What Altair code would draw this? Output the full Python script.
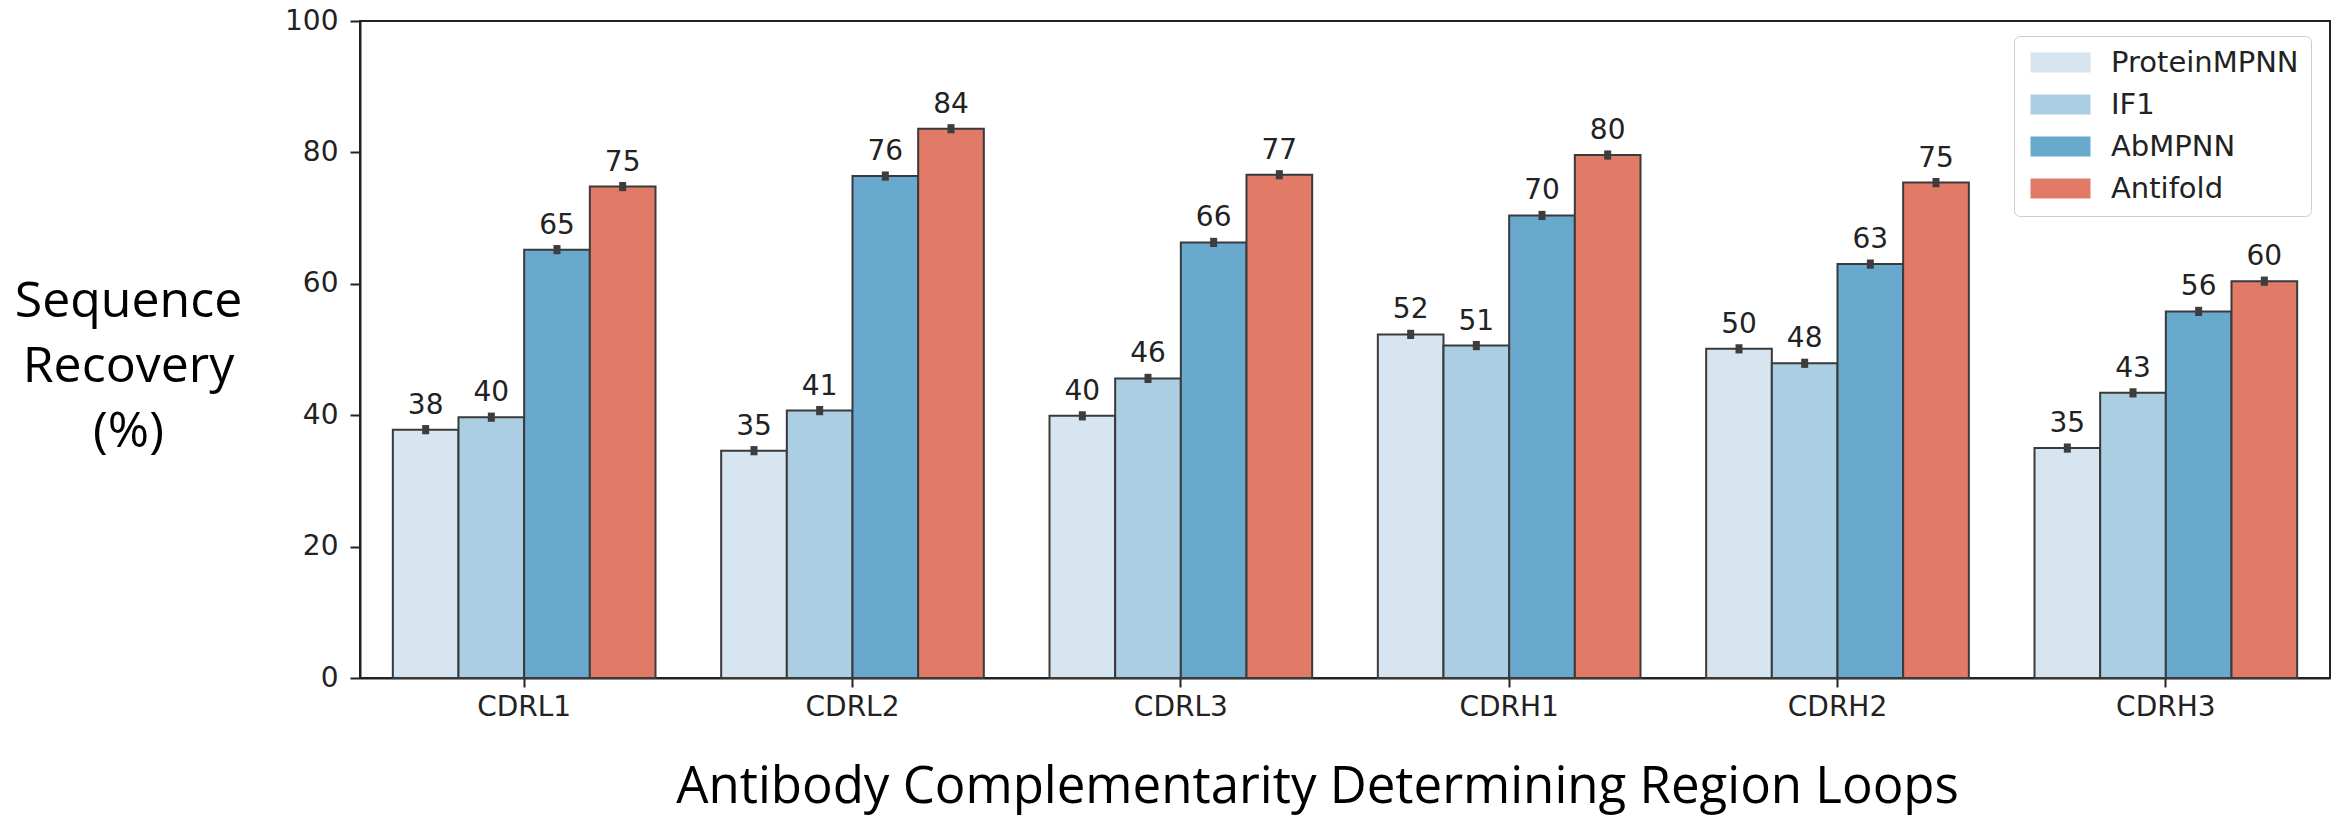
import altair as alt
import pandas as pd

# CDR loops on the x axis, one bar per design method in each loop
regions = ["CDRL1", "CDRL2", "CDRL3", "CDRH1", "CDRH2", "CDRH3"]
models = ["ProteinMPNN", "IF1", "AbMPNN", "Antifold"]
colors = ["#d7e5f0", "#abcee2", "#69a9cd", "#e27a68"]

# mean sequence recovery (%) per loop, one list per method
protein_mpnn = [37.8, 34.6, 39.9, 52.3, 50.1, 35.0]
if1 = [39.7, 40.7, 45.6, 50.6, 47.9, 43.4]
ab_mpnn = [65.2, 76.4, 66.3, 70.4, 63.0, 55.8]
antifold = [74.8, 83.6, 76.6, 79.6, 75.4, 60.4]

# half-width of the confidence interval drawn on top of each bar
protein_mpnn_err = [0.7, 0.7, 0.7, 0.7, 0.7, 0.7]
if1_err = [0.7, 0.7, 0.7, 0.7, 0.7, 0.7]
ab_mpnn_err = [0.7, 0.7, 0.7, 0.7, 0.7, 0.7]
antifold_err = [0.7, 0.7, 0.7, 0.7, 0.7, 0.7]

series = {
    "ProteinMPNN": (protein_mpnn, protein_mpnn_err),
    "IF1": (if1, if1_err),
    "AbMPNN": (ab_mpnn, ab_mpnn_err),
    "Antifold": (antifold, antifold_err),
}

rows = []
for model, (vals, errs) in series.items():
    for region, v, e in zip(regions, vals, errs):
        rows.append({"region": region, "model": model, "value": v,
                     "lo": v - e, "hi": v + e})
df = pd.DataFrame(rows)

TICK_FONT = "DejaVu Sans"
TITLE_FONT = "Open Sans"
INK = "#222222"

x_enc = alt.X(
    "region:N",
    sort=regions,
    scale=alt.Scale(paddingInner=0.2, paddingOuter=0.1),
    axis=alt.Axis(
        title="Antibody Complementarity Determining Region Loops",
        labelAngle=0,
        labelFont=TICK_FONT,
        labelFontSize=28,
        labelColor=INK,
        labelPadding=6,
        tickSize=9,
        tickWidth=2,
        tickColor=INK,
        domainColor=INK,
        domainWidth=2,
        titleFont=TITLE_FONT,
        titleFontSize=51,
        titleFontWeight="normal",
        titleColor="#000000",
        titleX=957,
        titleY=124,
        titleAlign="center",
        titleBaseline="alphabetic",
    ),
)
xoff_enc = alt.XOffset("model:N", sort=models,
                       scale=alt.Scale(paddingInner=0, paddingOuter=0))

y_scale = alt.Scale(domain=[0, 100], nice=False)
y_axis = alt.Axis(
    title=["Sequence", "Recovery", "(%)"],
    values=[0, 20, 40, 60, 80, 100],
    grid=False,
    labelFont=TICK_FONT,
    labelFontSize=28,
    labelColor=INK,
    labelPadding=12,
    tickSize=10,
    tickWidth=2,
    tickColor=INK,
    domainColor=INK,
    domainWidth=2,
    titleFont=TITLE_FONT,
    titleFontSize=50,
    titleFontWeight="normal",
    titleColor="#000000",
    titleAngle=0,
    titleAlign="center",
    titleBaseline="middle",
    titleLineHeight=65,
    titleX=-232,
    titleY=280,
)

base = alt.Chart(df)

bars = base.mark_bar(stroke="#3a3a3a", strokeWidth=2).encode(
    x=x_enc,
    xOffset=xoff_enc,
    y=alt.Y("value:Q", scale=y_scale, axis=y_axis),
    color=alt.Color(
        "model:N",
        sort=models,
        scale=alt.Scale(domain=models, range=colors),
        legend=alt.Legend(
            title=None,
            orient="none",
            legendX=1654,
            legendY=15,
            direction="vertical",
            labelFont=TICK_FONT,
            labelFontSize=29,
            labelColor=INK,
            labelLimit=400,
            labelOffset=56,
            # wide flat patch: nominal 20px box, drawn 60px wide to the right
            symbolType="M-1,-1H5V1H-1Z",
            symbolSize=400,
            symbolStrokeWidth=0,
            symbolOpacity=1,
            rowPadding=12,
            padding=12,
            fillColor="white",
            strokeColor="#cccccc",
            cornerRadius=6,
        ),
    ),
)

errors = base.mark_rule(color="#3d3d3d", strokeWidth=7).encode(
    x=alt.X("region:N", sort=regions),
    xOffset=alt.XOffset("model:N", sort=models),
    y=alt.Y("lo:Q", scale=y_scale),
    y2="hi:Q",
)

labels = base.mark_text(
    font=TICK_FONT, fontSize=28, color=INK,
    baseline="alphabetic", align="center", dy=-16,
).encode(
    x=alt.X("region:N", sort=regions),
    xOffset=alt.XOffset("model:N", sort=models),
    y=alt.Y("value:Q", scale=y_scale),
    text=alt.Text("value:Q", format=".0f"),
)

chart = (
    alt.layer(bars, errors, labels)
    .properties(
        width=1970,
        height=657,
        autosize=alt.AutoSizeParams(type="none"),
        padding={"left": 360, "top": 21, "right": 11, "bottom": 140},
        background="white",
    )
    .configure_view(stroke=INK, strokeWidth=2)
)

chart.save("out.html", embed_options={"renderer": "svg", "actions": False})
